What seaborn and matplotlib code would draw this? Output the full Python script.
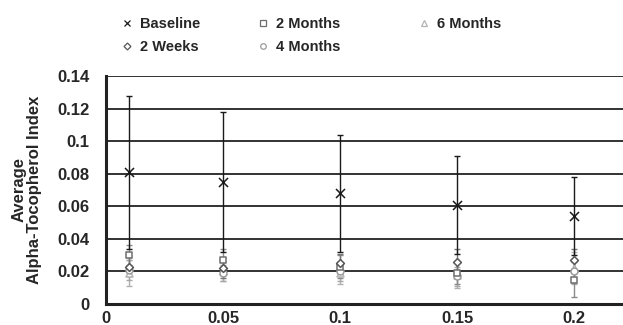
import numpy as np
import pandas as pd
import matplotlib
matplotlib.use("Agg")
import matplotlib.pyplot as plt
import seaborn as sns
from matplotlib.lines import Line2D

# ---- data ----
doses = [0.01, 0.05, 0.1, 0.15, 0.2]
series_names = ["Baseline", "2 Weeks", "2 Months", "4 Months", "6 Months"]
baseline = [0.081, 0.075, 0.068, 0.061, 0.054]
baseline_err = [0.047, 0.043, 0.036, 0.030, 0.024]
weeks2 = [0.023, 0.022, 0.025, 0.026, 0.027]
weeks2_err = [0.006, 0.006, 0.006, 0.008, 0.007]
months2 = [0.030, 0.027, 0.023, 0.019, 0.015]
months2_err = [0.006, 0.007, 0.007, 0.007, 0.011]
months4 = [0.021, 0.019, 0.020, 0.017, 0.020]
months4_err = [0.006, 0.005, 0.006, 0.006, 0.007]
months6 = [0.019, 0.020, 0.019, 0.018, 0.022]
months6_err = [0.008, 0.006, 0.007, 0.008, 0.010]
y_ticks = [0, 0.02, 0.04, 0.06, 0.08, 0.1, 0.12, 0.14]
y_tick_labels = ["0", "0.02", "0.04", "0.06", "0.08", "0.1", "0.12", "0.14"]
x_ticks = [0, 0.05, 0.1, 0.15, 0.2]
x_tick_labels = ["0", "0.05", "0.1", "0.15", "0.2"]

values = [baseline, weeks2, months2, months4, months6]
errors = [baseline_err, weeks2_err, months2_err, months4_err, months6_err]

rows = []
for name, vals, errs in zip(series_names, values, errors):
    for d, v, e in zip(doses, vals, errs):
        rows.append({"Dose": d, "Index": v, "Err": e, "Series": name})
df = pd.DataFrame(rows)

colors = {"Baseline": "#1a1a1a", "2 Weeks": "#555555", "2 Months": "#6e6e6e",
          "4 Months": "#9a9a9a", "6 Months": "#b4b4b4"}
err_colors = {"Baseline": "#1a1a1a", "2 Weeks": "#777777", "2 Months": "#8a8a8a",
              "4 Months": "#a8a8a8", "6 Months": "#b0b0b0"}
markers = {"Baseline": "x", "2 Weeks": "D", "2 Months": "s",
           "4 Months": "o", "6 Months": "^"}
msize = {"Baseline": 6.5, "2 Weeks": 4, "2 Months": 5, "4 Months": 5, "6 Months": 5}

sns.set_style("white")
plt.rcParams["font.family"] = ["Liberation Sans", "DejaVu Sans"]

fig = plt.figure(figsize=(6.23, 3.25), dpi=100)
ax = fig.add_axes([106 / 623, 1 - 304 / 325, (623 - 106) / 623, (304 - 76) / 325])

# error bars (drawn first so markers sit on top)
for name in series_names[::-1]:
    sub = df[df["Series"] == name]
    ax.errorbar(sub["Dose"], sub["Index"], yerr=sub["Err"], fmt="none",
                ecolor=err_colors[name], elinewidth=1.0, capsize=2.5,
                capthick=1.0, zorder=3)

for name in series_names[::-1]:
    sub = df[df["Series"] == name]
    mk = markers[name]
    if mk == "x":
        sns.scatterplot(data=sub, x="Dose", y="Index", marker="x",
                        color=colors[name], s=msize[name] ** 2, linewidth=1.1,
                        ax=ax, zorder=5, legend=False)
    else:
        sns.scatterplot(data=sub, x="Dose", y="Index", marker=mk,
                        facecolor="white", edgecolor=colors[name],
                        s=msize[name] ** 2, linewidth=1.1,
                        ax=ax, zorder=4, legend=False)

ax.set_xlim(0, 0.2209)
ax.set_ylim(0, 0.14)
ax.set_yticks(y_ticks)
ax.set_yticklabels(y_tick_labels)
ax.set_xticks(x_ticks)
ax.set_xticklabels(x_tick_labels)
for yv in y_ticks[1:]:
    ax.axhline(yv, color="#222222", linewidth=1.3, zorder=1)

for sp in ["top", "right"]:
    ax.spines[sp].set_visible(False)
for sp in ["left", "bottom"]:
    ax.spines[sp].set_color("#222222")
    ax.spines[sp].set_linewidth(2.2)

ax.tick_params(axis="both", which="major", direction="out", length=3,
               width=1.5, color="#222222", labelsize=12)
ax.tick_params(axis="y", pad=9)
ax.tick_params(axis="x", pad=2)
for lab in ax.get_xticklabels() + ax.get_yticklabels():
    lab.set_fontweight("bold")
ax.set_xlabel("")
ax.set_ylabel("Average\nAlpha-Tocopherol Index", fontsize=12,
              fontweight="bold", linespacing=1.0, labelpad=11)

def handle(name):
    mk = markers[name]
    if mk == "x":
        return Line2D([], [], marker="x", linestyle="none", color=colors[name],
                      markersize=5, markeredgewidth=0.9)
    return Line2D([], [], marker=mk, linestyle="none", markerfacecolor="white",
                  markeredgecolor=colors[name], markersize=4 if mk != "D" else 3.5,
                  markeredgewidth=0.9)

legend_cols = [(["Baseline", "2 Weeks"], 121), (["2 Months", "4 Months"], 257),
               (["6 Months"], 418)]
for names, xpix in legend_cols:
    leg = fig.legend([handle(n) for n in names], names, loc="upper left",
                     bbox_to_anchor=(xpix / 623, 1 - 17 / 325), frameon=False,
                     fontsize=10.5, handlelength=0.8, handletextpad=0.5,
                     labelspacing=0.6, borderpad=0, borderaxespad=0)
    for t in leg.get_texts():
        t.set_fontweight("bold")

fig.savefig("out.png", dpi=100)
